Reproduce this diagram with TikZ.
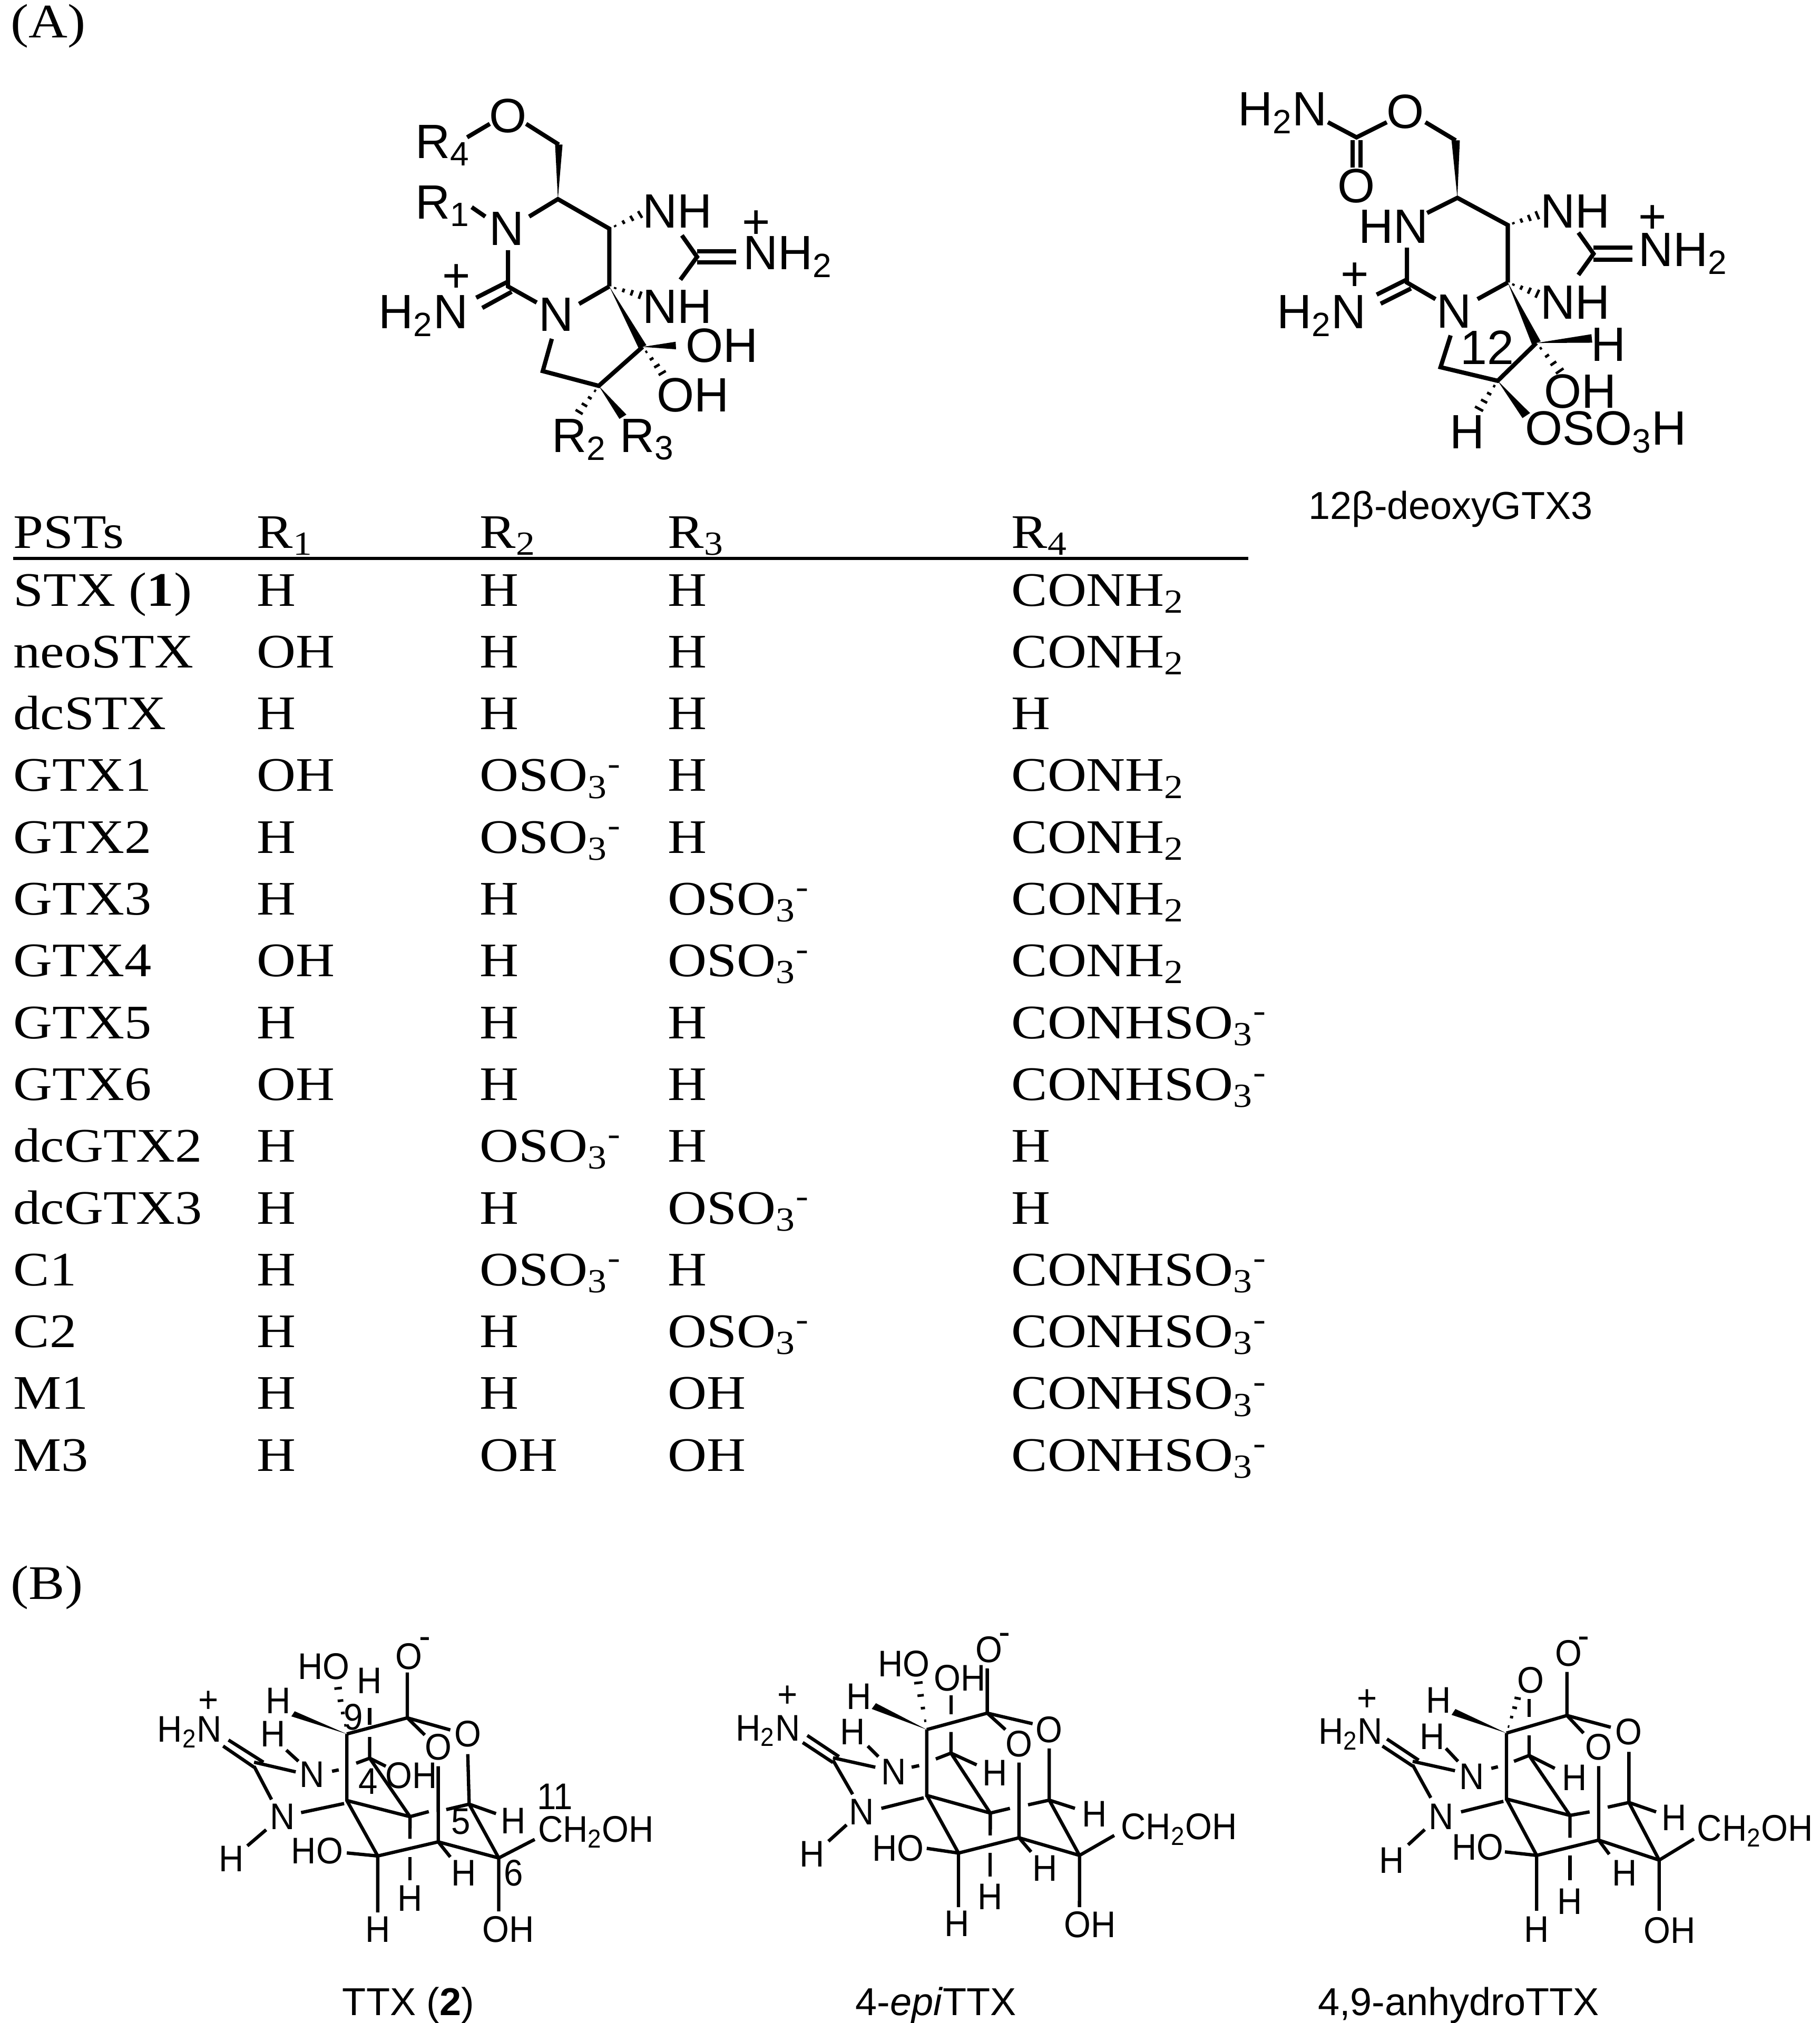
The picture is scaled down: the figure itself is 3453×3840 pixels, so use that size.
\documentclass[tikz,border=0pt]{standalone}
\usepackage{fontspec}
\usetikzlibrary{calc}
\newfontfamily\chem{Liberation Sans}
\newfontfamily\chemn{Liberation Sans}[FakeStretch=0.93]
\newfontfamily\tabf{Liberation Serif}[FakeStretch=1.12]
\newcommand\sbs[1]{\textsubscript{#1}}
\newcommand\wdg[3]{\fill ($(#2)!#3!90:(#1)$) -- (#1) -- ($(#2)!#3!-90:(#1)$) -- cycle;}
\newcommand\hsh[3]{\foreach \i in {1,...,4}{\coordinate (hp) at ($(#1)!{(\i-0.3)/4}!(#2)$);\pgfmathsetmacro\hw{#3*\i/4}\draw[line width=1.4pt] ($(hp)!\hw pt!90:(#2)$) -- ($(hp)!\hw pt!-90:(#2)$);}}
\tikzset{
 big/.style={font=\chem\fontsize{26}{30}\selectfont, inner sep=0pt},
 sml/.style={font=\chemn\fontsize{20}{24}\selectfont, inner sep=0pt},
 capt/.style={font=\chem\fontsize{21}{25}\selectfont, inner sep=0pt},
 tb/.style={font=\tabf\fontsize{26}{30}\selectfont, inner sep=0pt, anchor=base west},
 b1/.style={line width=2.3pt},
 b2/.style={line width=1.8pt}
}
\begin{document}
\begin{tikzpicture}[x=0.01cm,y=-0.01cm]
\useasboundingbox (0,0) rectangle (3453,3840);
\node[tb, anchor=west] (labA) at (20,50) {(A)};
\node[tb, anchor=west] (labB) at (20,3013) {(B)};

% ---------- structure 1 ----------
\begin{scope}[shift={(700,100)}, xscale=0.574, yscale=0.510, b1]
\node[big] (o1) at (460,235) {O};
\node[big] (r4) at (245,345) {R\sbs{4}};
\node[big] (r1) at (245,570) {R\sbs{1}};
\node[big] (n1) at (455,655) {N};
\node[big] (n3) at (620,975) {N};
\node[big] (nha) at (1020,590) {NH};
\node[big] (nhb) at (1020,945) {NH};
\node[big, anchor=west] (nh2) at (1230,760) {NH\sbs{2}};
\node[big] (p1) at (1280,640) {+};
\node[big, anchor=east] (h2n) at (335,980) {H\sbs{2}N};
\node[big] (p2) at (290,840) {+};
\node[big, anchor=west] (oha) at (1040,1090) {OH};
\node[big, anchor=west] (ohb) at (945,1275) {OH};
\node[big] (r2) at (695,1440) {R\sbs{2}};
\node[big] (r3) at (920,1440) {R\sbs{3}};
\coordinate (c6) at (625,545); \coordinate (ch2) at (628,342);
\coordinate (c5) at (795,655); \coordinate (c4) at (795,870);
\coordinate (c2) at (460,870); \coordinate (cg) at (1085,760);
\coordinate (c10) at (575,1185); \coordinate (c11) at (760,1240); \coordinate (c12) at (905,1095);
\draw (325,315) -- (400,265);
\draw (520,265) -- (ch2);
\wdg{c6}{ch2}{3.5pt}
\draw (340,575) -- (385,610);
\draw (530,610) -- (c6) -- (c5) -- (c4);
\hsh{c5}{905,598}{4}
\hsh{c4}{905,905}{4}
\draw (1035,680) -- (cg) -- (1030,845);
\draw (cg) ++(0,-20) -- ++(130,0); \draw (cg) ++(0,20) -- ++(130,0);
\draw (460,735) -- (c2) -- (555,930);
\draw (460,852) -- (355,912); \draw (472,890) -- (375,950);
\draw (695,935) -- (c4);
\draw (605,1065) -- (c10) -- (c11) -- (c12);
\wdg{c4}{c12}{4pt}
\wdg{c12}{1015,1090}{4pt}
\hsh{c12}{975,1200}{4}
\hsh{c11}{690,1345}{4}
\wdg{c11}{840,1355}{4pt}
\end{scope}

% ---------- structure 2 ----------
\begin{scope}[shift={(2300,100)}, xscale=0.638, yscale=0.574, b1]
\node[big] (s2h2n) at (210,200) {H\sbs{2}N};
\node[big] (s2o1) at (575,195) {O};
\node[big] (s2o2) at (430,440) {O};
\node[big] (s2hn) at (540,575) {HN};
\node[big] (s2nha) at (1080,525) {NH};
\node[big] (s2nhb) at (1080,825) {NH};
\node[big, anchor=west] (s2nh2) at (1262,665) {NH\sbs{2}};
\node[big] (s2p1) at (1310,550) {+};
\node[big, anchor=east] (s2h2n2) at (465,870) {H\sbs{2}N};
\node[big] (s2p2) at (425,740) {+};
\node[big] (s2n3) at (720,855) {N};
\node[big, anchor=east] (s2l12) at (905,975) {12};
\node[big] (s2h1) at (1180,965) {H};
\node[big] (s2oh) at (1095,1120) {OH};
\node[big] (s2h2) at (760,1255) {H};
\node[big, anchor=west] (s2oso) at (925,1255) {OSO\sbs{3}H};
\node[capt] (s2cap) at (710,1510) {12β-deoxyGTX3};
\coordinate (d1) at (430,280); \coordinate (dch2) at (725,290);
\coordinate (d6) at (730,480); \coordinate (d5) at (880,570); \coordinate (d4) at (880,760);
\coordinate (dg) at (1135,665); \coordinate (d2) at (580,760);
\coordinate (d10) at (680,1040); \coordinate (d11) at (850,1085); \coordinate (d12) at (965,960);
\draw (345,230) -- (d1) -- (520,230);
\draw (635,230) -- (dch2);
\wdg{d6}{dch2}{3.5pt}
\draw (418,290) -- (418,380); \draw (442,290) -- (442,380);
\draw (640,530) -- (d6) -- (d5) -- (d4);
\hsh{d5}{975,535}{4}
\hsh{d4}{975,800}{4}
\draw (1090,595) -- (dg) -- (1090,735);
\draw (1135,645) -- (1250,645); \draw (1135,685) -- (1250,685);
\draw (580,645) -- (d2) -- (665,815);
\draw (580,750) -- (490,800); \draw (592,780) -- (502,830);
\draw (790,815) -- (d4);
\draw (710,935) -- (d10) -- (d11) -- (d12);
\wdg{d4}{d12}{4pt}
\wdg{d12}{1130,945}{4pt}
\hsh{d12}{1040,1060}{4}
\hsh{d11}{790,1185}{4}
\wdg{d11}{935,1200}{4pt}
\end{scope}

% ---------- table ----------
\node[tb] (hA) at (25,1040) {PSTs};
\node[tb] (hB) at (487,1040) {R\sbs{1}};
\node[tb] (hC) at (910,1040) {R\sbs{2}};
\node[tb] (hD) at (1267,1040) {R\sbs{3}};
\node[tb] (hE) at (1919,1040) {R\sbs{4}};
\draw[line width=1.5pt] (25,1060) -- (2369,1060);
\newcommand\os{OSO\sbs{3}\textsuperscript{-}}
\newcommand\cn{CONH\sbs{2}}
\newcommand\cs{CONHSO\sbs{3}\textsuperscript{-}}
\foreach \n/\a/\b/\c/\d [count=\k from 0] in {
 {STX (\textbf{1})}/H/H/H/\cn, neoSTX/OH/H/H/\cn, dcSTX/H/H/H/H,
 GTX1/OH/\os/H/\cn, GTX2/H/\os/H/\cn, GTX3/H/H/\os/\cn, GTX4/OH/H/\os/\cn,
 GTX5/H/H/H/\cs, GTX6/OH/H/H/\cs, dcGTX2/H/\os/H/H, dcGTX3/H/H/\os/H,
 C1/H/\os/H/\cs, C2/H/H/\os/\cs, M1/H/H/OH/\cs, M3/H/OH/OH/\cs}{
 \pgfmathsetmacro\yy{1150+117.3*\k}
 \node[tb] (ta\k) at (25,\yy) {\n};
 \node[tb] (tb\k) at (487,\yy) {\a};
 \node[tb] (tc\k) at (910,\yy) {\b};
 \node[tb] (td\k) at (1267,\yy) {\c};
 \node[tb] (te\k) at (1919,\yy) {\d};
}

% ---------- TTX ----------
\begin{scope}[shift={(250,3100)}, xscale=0.5102, yscale=0.3827, b2]
\node[sml] (t1om) at (1030,115) {O};
\node[sml] (t1mi) at (1090,50) {-};
\node[sml] (t1ho) at (715,165) {HO};
\node[sml] (t1ha) at (885,235) {H};
\node[sml] (t1hb) at (545,335) {H};
\node[sml] (t1n9) at (825,415) {9};
\node[sml] (t1pl) at (285,340) {+};
\node[sml] (t1h2n) at (215,490) {H\sbs{2}N};
\node[sml] (t1hc) at (525,500) {H};
\node[sml] (t1n1) at (670,700) {N};
\node[sml] (t1o1) at (1140,565) {O};
\node[sml] (t1o2) at (1250,500) {O};
\node[sml] (t1n4) at (880,735) {4};
\node[sml] (t1oh) at (1040,705) {OH};
\node[sml] (t1n5) at (1225,935) {5};
\node[sml] (t1hd) at (1420,930) {H};
\node[sml] (t1n2) at (560,910) {N};
\node[sml] (t1ho2) at (690,1080) {HO};
\node[sml] (t1he) at (370,1120) {H};
\node[sml] (t1hf) at (1235,1190) {H};
\node[sml] (t1n6) at (1420,1190) {6};
\node[sml] (t1hg) at (1035,1315) {H};
\node[sml] (t1hh) at (915,1470) {H};
\node[sml] (t1oh2) at (1400,1470) {OH};
\node[sml] (t1n11) at (1574,810) {11};
\node[sml, anchor=west] (t1ch) at (1505,985) {CH\sbs{2}OH};
\coordinate (e10) at (1025,420); \coordinate (e9) at (800,500); \coordinate (e4a) at (800,830);
\coordinate (e4) at (885,620); \coordinate (e5) at (1255,848); \coordinate (e6) at (1365,1115);
\coordinate (e7) at (1140,1035); \coordinate (e8) at (915,1105); \coordinate (e8a) at (1035,910);
\coordinate (eg) at (455,640);
\draw (1025,195) -- (e10) -- (1185,480); \draw (e10) -- (1090,505);
\draw (1250,600) -- (e5) -- (e6); \draw (e5) -- (1355,895); \draw (1170,875) -- (e5);
\draw (1140,660) -- (e7) -- (e6); \draw (e7) -- (1185,1110);
\draw (e8) -- (e7); \draw (e8) -- (915,1385); \draw (800,1090) -- (e8);
\draw (e9) -- (e4a) -- (e8); \draw (e4a) -- (e8a) -- (1105,885);
\draw (e8a) -- (1035,1020); \draw (1035,1110) -- (1035,1225);
\draw (885,515) -- (e4); \draw (885,370) -- (885,455);
\draw (835,645) -- (e4) -- (945,660); \draw (e4) -- (e8a);
\draw (e9) -- (e10);
\wdg{e9}{600,400}{4pt}
\hsh{e9}{765,255}{4}
\draw (575,580) -- (620,635);
\draw (eg) -- (610,688);
\draw (745,685) -- (770,678);
\draw (340,560) -- (455,665); \draw (360,530) -- (490,640);
\draw (455,660) -- (520,825);
\draw (630,890) -- (790,845);
\draw (500,975) -- (430,1055);
\draw (e6) -- (1365,1380); \draw (e6) -- (1499,1023);
\end{scope}
\node[capt] (cap1) at (775,3806) {TTX (\textbf{2})};

% ---------- 4-epiTTX ----------
\begin{scope}[shift={(1400,3100)}, xscale=0.574, yscale=0.4464, b2]
\node[sml] (t2om) at (830,70) {O};
\node[sml] (t2mi) at (882,25) {-};
\node[sml] (t2ho) at (550,130) {HO};
\node[sml] (t2oh) at (735,190) {OH};
\node[sml] (t2ha) at (400,270) {H};
\node[sml] (t2pl) at (165,270) {+};
\node[sml] (t2h2n) at (100,415) {H\sbs{2}N};
\node[sml] (t2hb) at (380,420) {H};
\node[sml] (t2n1) at (515,590) {N};
\node[sml] (t2o1) at (930,470) {O};
\node[sml] (t2o2) at (1030,410) {O};
\node[sml] (t2hc) at (850,595) {H};
\node[sml] (t2hd) at (1180,770) {H};
\node[sml, anchor=west] (t2ch) at (1262,835) {CH\sbs{2}OH};
\node[sml] (t2n2) at (410,760) {N};
\node[sml] (t2he) at (245,940) {H};
\node[sml] (t2ho2) at (530,915) {HO};
\node[sml] (t2hf) at (1015,1000) {H};
\node[sml] (t2hg) at (835,1120) {H};
\node[sml] (t2hh) at (725,1235) {H};
\node[sml] (t2oh2) at (1165,1240) {OH};
\coordinate (f10) at (825,340); \coordinate (f9) at (625,410); \coordinate (f4) at (705,510);
\coordinate (f4a) at (625,690); \coordinate (f8a) at (835,765); \coordinate (f8) at (730,935);
\coordinate (f7) at (930,870); \coordinate (f5) at (1030,710); \coordinate (f6) at (1130,945);
\coordinate (fg) at (315,530);
\draw (825,150) -- (f10) -- (975,385); \draw (f10) -- (885,410);
\draw (f9) -- (f10);
\wdg{f9}{450,310}{4pt}
\hsh{f9}{595,195}{4}
\draw (705,265) -- (705,345); \draw (705,420) -- (f4);
\draw (655,535) -- (f4) -- (790,560); \draw (f4) -- (f8a);
\draw (f9) -- (f4a) -- (f8a) -- (900,745);
\draw (f8a) -- (835,860); \draw (835,935) -- (835,1035);
\draw (f4a) -- (f8); \draw (625,915) -- (f8); \draw (f8) -- (730,1165);
\draw (f8) -- (f7); \draw (930,550) -- (f7) -- (970,930); \draw (f7) -- (f6);
\draw (1030,490) -- (f5); \draw (960,730) -- (f5) -- (1115,745); \draw (f5) -- (f6);
\draw (f6) -- (1245,860); \draw (f6) -- (1130,1165);
\draw (230,435) -- (335,525); \draw (215,465) -- (315,550);
\draw (fg) -- (455,570);
\draw (430,480) -- (465,525);
\draw (575,570) -- (600,563);
\draw (315,540) -- (380,685);
\draw (475,745) -- (615,700);
\draw (360,815) -- (300,885);
\end{scope}
\node[capt] (cap2) at (1776,3806) {4-\textit{epi}TTX};

% ---------- 4,9-anhydroTTX ----------
\begin{scope}[shift={(2480,3100)}, xscale=0.574, yscale=0.4464, b2]
\node[sml] (t3om) at (865,85) {O};
\node[sml] (t3mi) at (915,40) {-};
\node[sml] (t3ob) at (740,200) {O};
\node[sml] (t3ha) at (435,285) {H};
\node[sml] (t3pl) at (200,285) {+};
\node[sml] (t3h2n) at (145,430) {H\sbs{2}N};
\node[sml] (t3hb) at (415,440) {H};
\node[sml] (t3n1) at (545,610) {N};
\node[sml] (t3o1) at (965,485) {O};
\node[sml] (t3o2) at (1065,420) {O};
\node[sml] (t3hc) at (885,615) {H};
\node[sml] (t3hd) at (1215,785) {H};
\node[sml, anchor=west] (t3ch) at (1285,840) {CH\sbs{2}OH};
\node[sml] (t3n2) at (445,780) {N};
\node[sml] (t3he) at (280,965) {H};
\node[sml] (t3ho2) at (565,910) {HO};
\node[sml] (t3hf) at (1050,1020) {H};
\node[sml] (t3hg) at (870,1140) {H};
\node[sml] (t3hh) at (760,1260) {H};
\node[sml] (t3oh2) at (1200,1265) {OH};
\coordinate (g10) at (860,350); \coordinate (g9) at (660,425); \coordinate (g4) at (735,520);
\coordinate (g4a) at (660,705); \coordinate (g8a) at (870,775); \coordinate (g8) at (760,945);
\coordinate (g7) at (965,880); \coordinate (g5) at (1065,720); \coordinate (g6) at (1165,965);
\coordinate (gg) at (350,545);
\draw (860,165) -- (g10) -- (1005,400); \draw (g10) -- (915,425);
\draw (g9) -- (g10);
\wdg{g9}{485,335}{4pt}
\hsh{g9}{700,265}{3}
\draw (735,280) -- (735,355); \draw (735,435) -- (g4);
\draw (685,545) -- (g4) -- (820,575); \draw (g4) -- (g8a);
\draw (g9) -- (g4a) -- (g8a) -- (935,760);
\draw (g8a) -- (870,870); \draw (870,945) -- (870,1050);
\draw (g4a) -- (g8); \draw (655,930) -- (g8); \draw (g8) -- (760,1180);
\draw (g8) -- (g7); \draw (965,565) -- (g7) -- (1000,940); \draw (g7) -- (g6);
\draw (1065,505) -- (g5); \draw (995,740) -- (g5) -- (1155,760); \draw (g5) -- (g6);
\draw (g6) -- (1280,875); \draw (g6) -- (1165,1180);
\draw (265,450) -- (370,540); \draw (250,480) -- (350,565);
\draw (gg) -- (490,585);
\draw (460,490) -- (500,545);
\draw (610,575) -- (632,568);
\draw (350,560) -- (410,700);
\draw (510,760) -- (650,715);
\draw (390,835) -- (335,900);
\end{scope}
\node[capt] (cap3) at (2768,3806) {4,9-anhydroTTX};
\end{tikzpicture}
\end{document}
